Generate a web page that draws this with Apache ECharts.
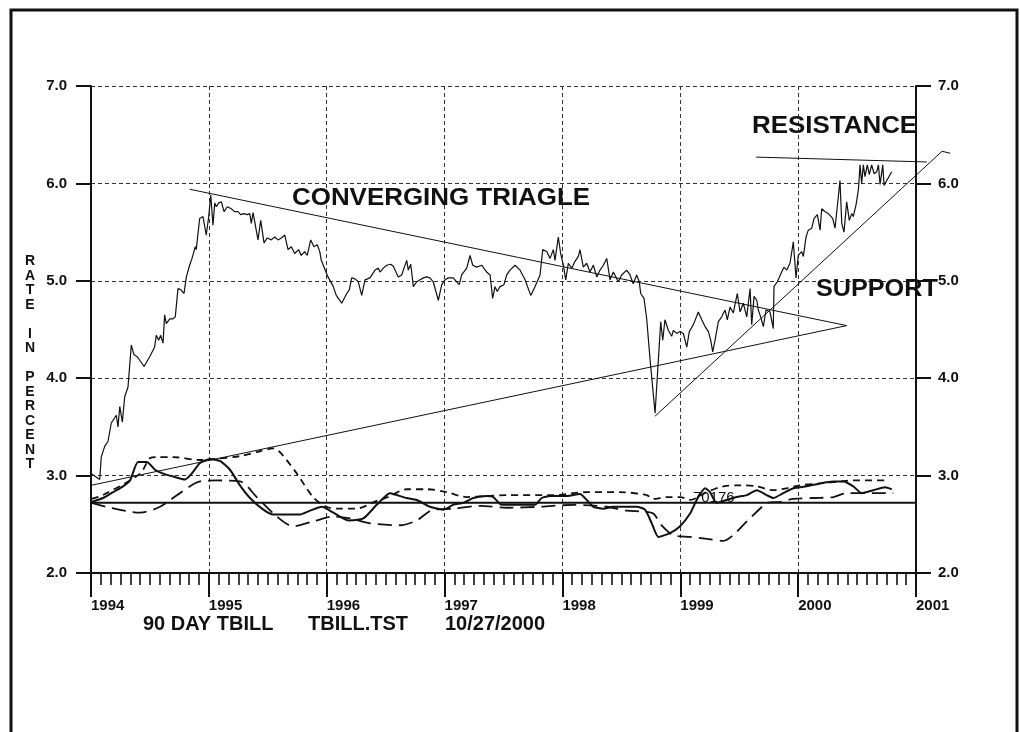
<!DOCTYPE html>
<html>
<head>
<meta charset="utf-8">
<title>90 DAY TBILL</title>
<script src="https://cdn.jsdelivr.net/npm/echarts@6/dist/echarts.min.js"></script>
<style>
  html, body { margin: 0; padding: 0; background: #fff; }
  #chart { width: 1020px; height: 732px; }
</style>
</head>
<body>
<div id="chart"></div>
<script>
// weekly 90 day t-bill rate (decimal years)
const rateYears = [
  1994.003, 1994.074, 1994.087, 1994.116, 1994.144, 1994.172, 1994.215, 1994.229, 1994.244, 1994.266,
  1994.286, 1994.314, 1994.342, 1994.365, 1994.393, 1994.450, 1994.498, 1994.540, 1994.554, 1994.574,
  1994.591, 1994.611, 1994.625, 1994.639, 1994.668, 1994.696, 1994.715, 1994.738, 1994.761, 1994.789,
  1994.809, 1994.837, 1994.857, 1994.885, 1994.893, 1994.922, 1994.950, 1994.978, 1994.999, 1995.016,
  1995.035, 1995.050, 1995.063, 1995.084, 1995.106, 1995.129, 1995.157, 1995.190, 1995.219, 1995.247,
  1995.270, 1995.298, 1995.326, 1995.347, 1995.360, 1995.375, 1995.389, 1995.417, 1995.440, 1995.468,
  1995.496, 1995.530, 1995.559, 1995.587, 1995.615, 1995.644, 1995.672, 1995.700, 1995.728, 1995.762,
  1995.784, 1995.813, 1995.835, 1995.864, 1995.892, 1995.920, 1995.941, 1995.954, 1995.971, 1996.011,
  1996.056, 1996.081, 1996.127, 1996.170, 1996.192, 1996.212, 1996.240, 1996.268, 1996.297, 1996.325,
  1996.367, 1996.410, 1996.438, 1996.452, 1996.480, 1996.509, 1996.543, 1996.565, 1996.607, 1996.636,
  1996.656, 1996.679, 1996.692, 1996.713, 1996.735, 1996.764, 1996.792, 1996.820, 1996.848, 1996.876,
  1996.904, 1996.947, 1996.976, 1997.004, 1997.032, 1997.074, 1997.103, 1997.125, 1997.145, 1997.188,
  1997.216, 1997.239, 1997.273, 1997.315, 1997.357, 1997.386, 1997.408, 1997.428, 1997.447, 1997.470,
  1997.504, 1997.527, 1997.555, 1997.598, 1997.640, 1997.683, 1997.731, 1997.767, 1997.810, 1997.833,
  1997.867, 1997.895, 1997.923, 1997.937, 1997.965, 1997.985, 1998.008, 1998.028, 1998.050, 1998.079,
  1998.107, 1998.135, 1998.149, 1998.177, 1998.206, 1998.234, 1998.262, 1998.291, 1998.319, 1998.347,
  1998.376, 1998.404, 1998.432, 1998.474, 1998.503, 1998.545, 1998.573, 1998.601, 1998.630, 1998.652,
  1998.664, 1998.692, 1998.715, 1998.743, 1998.786, 1998.814, 1998.834, 1998.851, 1998.870, 1998.899,
  1998.927, 1998.941, 1998.970, 1998.998, 1999.026, 1999.055, 1999.077, 1999.111, 1999.153, 1999.182,
  1999.210, 1999.238, 1999.258, 1999.275, 1999.295, 1999.323, 1999.351, 1999.380, 1999.399, 1999.422,
  1999.450, 1999.484, 1999.507, 1999.535, 1999.564, 1999.592, 1999.606, 1999.626, 1999.649, 1999.662,
  1999.682, 1999.705, 1999.727, 1999.761, 1999.789, 1999.795, 1999.823, 1999.860, 1999.880, 1999.903,
  1999.931, 1999.959, 1999.982, 2000.001, 2000.030, 2000.044, 2000.067, 2000.086, 2000.115, 2000.135,
  2000.163, 2000.186, 2000.200, 2000.228, 2000.256, 2000.293, 2000.313, 2000.332, 2000.355, 2000.370,
  2000.389, 2000.412, 2000.434, 2000.455, 2000.468, 2000.491, 2000.511, 2000.525, 2000.539, 2000.553,
  2000.567, 2000.587, 2000.604, 2000.624, 2000.644, 2000.667, 2000.681, 2000.695, 2000.718, 2000.729,
  2000.752, 2000.794
];
const rateValues = [
  3.02, 2.96, 3.19, 3.30, 3.35, 3.54, 3.62, 3.50, 3.71, 3.55,
  3.81, 3.91, 4.34, 4.24, 4.22, 4.12, 4.22, 4.32, 4.44, 4.39,
  4.44, 4.36, 4.65, 4.56, 4.61, 4.61, 4.63, 4.92, 4.91, 4.87,
  5.04, 5.16, 5.23, 5.35, 5.32, 5.64, 5.66, 5.47, 5.66, 5.88,
  5.57, 5.80, 5.76, 5.80, 5.81, 5.71, 5.76, 5.74, 5.71, 5.71,
  5.68, 5.69, 5.68, 5.69, 5.59, 5.70, 5.68, 5.42, 5.62, 5.39,
  5.44, 5.42, 5.45, 5.42, 5.44, 5.47, 5.32, 5.35, 5.28, 5.32,
  5.26, 5.30, 5.26, 5.42, 5.35, 5.37, 5.30, 5.21, 5.16, 5.04,
  4.94, 4.85, 4.77, 4.87, 4.91, 5.03, 5.02, 4.99, 4.85, 5.01,
  5.03, 5.11, 5.13, 5.09, 5.13, 5.16, 5.17, 5.15, 5.04, 5.06,
  5.13, 5.21, 5.11, 5.17, 4.94, 4.99, 5.01, 5.03, 5.04, 5.03,
  4.99, 4.80, 4.96, 5.01, 5.03, 5.03, 4.99, 4.96, 5.06, 5.13,
  5.26, 5.16, 5.14, 5.16, 5.09, 5.06, 4.82, 4.94, 4.89, 4.94,
  4.96, 5.06, 5.11, 5.16, 5.11, 5.01, 4.85, 4.94, 5.06, 5.32,
  5.30, 5.23, 5.32, 5.21, 5.45, 5.28, 5.16, 5.01, 5.18, 5.13,
  5.20, 5.25, 5.32, 5.14, 5.18, 5.09, 5.16, 5.04, 5.11, 5.16,
  5.23, 5.01, 5.09, 4.99, 5.06, 5.11, 5.06, 4.97, 5.06, 4.99,
  4.87, 4.82, 4.61, 4.20, 3.64, 4.19, 4.58, 4.39, 4.60, 4.49,
  4.43, 4.49, 4.46, 4.48, 4.46, 4.32, 4.48, 4.55, 4.68, 4.60,
  4.53, 4.48, 4.39, 4.27, 4.39, 4.58, 4.63, 4.70, 4.60, 4.73,
  4.67, 4.87, 4.68, 4.77, 4.63, 4.92, 4.55, 4.84, 4.80, 4.70,
  4.63, 4.53, 4.70, 4.68, 4.51, 4.94, 4.99, 5.09, 5.14, 5.11,
  5.18, 5.40, 5.03, 5.26, 5.30, 5.25, 5.45, 5.52, 5.54, 5.64,
  5.68, 5.52, 5.74, 5.71, 5.69, 5.64, 5.54, 5.76, 6.03, 5.59,
  5.50, 5.81, 5.62, 5.69, 5.66, 5.78, 5.93, 6.19, 6.00, 6.19,
  6.07, 6.19, 6.09, 6.19, 6.10, 6.12, 6.19, 5.99, 6.19, 5.98,
  6.03, 6.12
];

// oscillator lines in the lower band
const oscSolidYears = [
  1994.006, 1994.102, 1994.187, 1994.272, 1994.331, 1994.399, 1994.473, 1994.543, 1994.613, 1994.698,
  1994.798, 1994.854, 1994.925, 1995.010, 1995.095, 1995.179, 1995.264, 1995.349, 1995.462, 1995.547,
  1995.661, 1995.773, 1995.858, 1995.958, 1996.056, 1996.183, 1996.310, 1996.424, 1996.537, 1996.594,
  1996.679, 1996.764, 1996.876, 1996.989, 1997.074, 1997.159, 1997.244, 1997.357, 1997.414, 1997.485,
  1997.640, 1997.767, 1997.824, 1997.895, 1998.036, 1998.149, 1998.206, 1998.262, 1998.347, 1998.432,
  1998.630, 1998.701, 1998.758, 1998.814, 1998.913, 1998.998, 1999.083, 1999.139, 1999.210, 1999.252,
  1999.309, 1999.394, 1999.479, 1999.564, 1999.649, 1999.733, 1999.789, 1999.874, 1999.959, 2000.073,
  2000.186, 2000.299, 2000.384, 2000.468, 2000.539, 2000.638, 2000.737, 2000.794
];
const oscSolidValues = [
  2.73, 2.77, 2.83, 2.89, 2.95, 3.14, 3.14, 3.06, 3.02, 2.99,
  2.96, 3.02, 3.13, 3.17, 3.15, 3.06, 2.90, 2.77, 2.65, 2.60,
  2.60, 2.60, 2.64, 2.68, 2.62, 2.54, 2.56, 2.70, 2.82, 2.80,
  2.77, 2.75, 2.68, 2.65, 2.70, 2.72, 2.77, 2.79, 2.78, 2.70,
  2.70, 2.70, 2.77, 2.79, 2.79, 2.81, 2.75, 2.68, 2.66, 2.68,
  2.68, 2.65, 2.51, 2.37, 2.41, 2.48, 2.61, 2.75, 2.87, 2.83,
  2.72, 2.75, 2.78, 2.80, 2.85, 2.80, 2.77, 2.82, 2.87, 2.89,
  2.92, 2.94, 2.94, 2.89, 2.82, 2.85, 2.88, 2.86
];
const oscFastYears = [
  1994.006, 1994.102, 1994.416, 1994.501, 1994.557, 1994.698, 1994.925, 1995.038, 1995.264, 1995.433,
  1995.547, 1995.611, 1995.747, 1995.884, 1995.997, 1996.113, 1996.247, 1996.424, 1996.520, 1996.679,
  1996.848, 1997.018, 1997.188, 1997.357, 1997.527, 1997.923, 1998.206, 1998.489, 1998.715, 1998.769,
  1998.885, 1998.998, 1999.083, 1999.225, 1999.366, 1999.507, 1999.649, 1999.789, 1999.903, 2000.016,
  2000.186, 2000.355, 2000.468, 2000.752
];
const oscFastValues = [
  2.76, 2.80, 3.02, 3.18, 3.19, 3.19, 3.16, 3.17, 3.20, 3.25,
  3.28, 3.23, 3.02, 2.78, 2.68, 2.66, 2.66, 2.74, 2.78, 2.86,
  2.86, 2.83, 2.78, 2.79, 2.80, 2.80, 2.83, 2.83, 2.80, 2.76,
  2.78, 2.78, 2.75, 2.83, 2.89, 2.90, 2.89, 2.85, 2.87, 2.90,
  2.92, 2.94, 2.95, 2.95
];
const oscSlowYears = [
  1994.006, 1994.161, 1994.416, 1994.585, 1994.755, 1994.925, 1995.067, 1995.264, 1995.406, 1995.576,
  1995.717, 1995.886, 1996.056, 1996.198, 1996.367, 1996.622, 1996.764, 1996.904, 1997.074, 1997.300,
  1997.527, 1997.810, 1998.092, 1998.376, 1998.545, 1998.686, 1998.771, 1998.842, 1998.941, 1999.083,
  1999.225, 1999.366, 1999.450, 1999.564, 1999.676, 1999.733, 1999.846, 1999.959, 2000.129, 2000.299,
  2000.412, 2000.638, 2000.808
];
const oscSlowValues = [
  2.72, 2.67, 2.62, 2.68, 2.82, 2.94, 2.95, 2.94, 2.78, 2.58,
  2.48, 2.53, 2.58, 2.56, 2.51, 2.49, 2.54, 2.65, 2.66, 2.69,
  2.67, 2.68, 2.70, 2.68, 2.64, 2.63, 2.61, 2.49, 2.39, 2.37,
  2.35, 2.33, 2.39, 2.53, 2.66, 2.72, 2.73, 2.76, 2.77, 2.78,
  2.82, 2.82, 2.82
];
const oscBaseLevel = 2.72;

// hand drawn trend lines
const upperTrendYears = [1994.837, 2000.412];
const upperTrendValues = [5.94, 4.54];
const lowerTrendYears = [1994.0, 2000.412];
const lowerTrendValues = [2.90, 4.54];
const supportYears = [1998.786, 2001.221, 2001.289];
const supportValues = [3.61, 6.33, 6.31];
const resistanceYears = [1999.643, 2001.091];
const resistanceValues = [6.27, 6.22];

const yearTicks = [1994, 1995, 1996, 1997, 1998, 1999, 2000, 2001];
const rateTicks = [2.0, 3.0, 4.0, 5.0, 6.0, 7.0];

const INK = '#111';
const FONT = '"Liberation Sans", Arial, Helvetica, sans-serif';

const pairs = (xs, ys) => xs.map((x, i) => [x, ys[i]]);

const lineSeries = (name, xs, ys, style, extra) => Object.assign({
  name: name,
  type: 'line',
  data: pairs(xs, ys),
  showSymbol: false,
  symbol: 'none',
  silent: true,
  animation: false,
  lineStyle: Object.assign({ color: INK, width: 1 }, style)
}, extra || {});

const textEl = (id, text, x, y, font, scaleX) => ({
  id: id,
  type: 'text',
  silent: true,
  x: x,
  y: y,
  scaleX: scaleX || 1,
  style: {
    text: text, font: font, fill: INK,
    align: 'left', textAlign: 'left', verticalAlign: 'middle', textVerticalAlign: 'middle'
  }
});

const chart = echarts.init(document.getElementById('chart'), null, { renderer: 'canvas' });

const yAxisBase = {
  type: 'value',
  min: rateTicks[0],
  max: rateTicks[rateTicks.length - 1],
  interval: 1,
  axisLine: { show: true, lineStyle: { color: INK, width: 2 } },
  axisTick: { show: true, length: 15, lineStyle: { color: INK, width: 2 } },
  axisLabel: {
    color: INK,
    fontFamily: FONT,
    fontWeight: 'bold',
    fontSize: 15,
    formatter: (v) => v.toFixed(1)
  }
};

chart.setOption({
  animation: false,
  backgroundColor: '#fff',
  grid: { left: 91, right: 104, top: 86, bottom: 159, containLabel: false },
  xAxis: {
    type: 'value',
    min: yearTicks[0],
    max: yearTicks[yearTicks.length - 1],
    interval: 1,
    axisLine: { show: true, onZero: false, lineStyle: { color: INK, width: 2 } },
    axisTick: { show: true, length: 24, lineStyle: { color: INK, width: 2 } },
    minorTick: { show: true, splitNumber: 12, length: 12, lineStyle: { color: INK, width: 1.6 } },
    axisLabel: {
      color: INK,
      fontFamily: FONT,
      fontWeight: 'bold',
      fontSize: 15,
      align: 'left',
      margin: 25,
      showMinLabel: true,
      showMaxLabel: true,
      formatter: (v) => String(Math.round(v))
    },
    splitLine: { show: true, lineStyle: { color: '#333', width: 1, type: [4, 3] } }
  },
  yAxis: [
    Object.assign({}, yAxisBase, {
      position: 'left',
      axisLabel: Object.assign({}, yAxisBase.axisLabel, { margin: 24 }),
      splitLine: { show: true, lineStyle: { color: '#333', width: 1, type: [4, 3] } }
    }),
    Object.assign({}, yAxisBase, {
      position: 'right',
      axisLabel: Object.assign({}, yAxisBase.axisLabel, { margin: 22 }),
      splitLine: { show: false }
    })
  ],
  series: [
    lineSeries('TBILL', rateYears, rateValues, { width: 1.2 }),
    lineSeries('upper trend', upperTrendYears, upperTrendValues, { width: 1 }),
    lineSeries('lower trend', lowerTrendYears, lowerTrendValues, { width: 1 }),
    lineSeries('osc slow', oscSlowYears, oscSlowValues, { width: 1.8, type: [14, 7] }, { smooth: 0.3 }),
    lineSeries('osc fast', oscFastYears, oscFastValues, { width: 1.8, type: [7, 5] }, { smooth: 0.3 }),
    lineSeries('osc', oscSolidYears, oscSolidValues, { width: 2 }, { smooth: 0.2 }),
    lineSeries('base', [yearTicks[0], yearTicks[yearTicks.length - 1]], [oscBaseLevel, oscBaseLevel], { width: 2 })
  ]
});

// support / resistance run past the right axis, so they are drawn unclipped
// as polylines placed through the chart's own scales
const toPixels = (xs, ys) => xs.map((x, i) => chart.convertToPixel({ gridIndex: 0 }, [x, ys[i]]));

chart.setOption({
  graphic: [
    {
      id: 'frame',
      type: 'rect',
      silent: true,
      shape: { x: 11, y: 10, width: 1006, height: 760 },
      style: { fill: 'none', stroke: INK, lineWidth: 3 }
    },
    {
      id: 'support',
      type: 'polyline', silent: true, z: 10,
      shape: { points: toPixels(supportYears, supportValues) },
      style: { fill: 'none', stroke: INK, lineWidth: 1 }
    },
    {
      id: 'resistance',
      type: 'polyline', silent: true, z: 10,
      shape: { points: toPixels(resistanceYears, resistanceValues) },
      style: { fill: 'none', stroke: INK, lineWidth: 1 }
    },
    // vertical axis name, one letter per line
    {
      id: 'yname',
      type: 'text',
      silent: true,
      x: 30,
      y: 254,
      style: {
        text: 'R\nA\nT\nE\n \nI\nN\n \nP\nE\nR\nC\nE\nN\nT',
        font: 'bold 14px ' + FONT,
        fill: INK,
        align: 'center',
        textAlign: 'center',
        verticalAlign: 'top',
        textVerticalAlign: 'top',
        lineHeight: 14.5
      }
    },
    textEl('t1', 'CONVERGING TRIAGLE', 292, 198, 'bold 24px ' + FONT, 1.08),
    textEl('t2', 'RESISTANCE', 752, 126, 'bold 24px ' + FONT, 1.08),
    textEl('t3', 'SUPPORT', 816, 289, 'bold 24px ' + FONT, 1.05),
    textEl('t4', '70176', 693, 498, '15px ' + FONT),
    // footer line
    textEl('f1', '90 DAY TBILL', 143, 624, 'bold 20px ' + FONT),
    textEl('f2', 'TBILL.TST', 308, 624, 'bold 20px ' + FONT),
    textEl('f3', '10/27/2000', 445, 624, 'bold 20px ' + FONT)
  ]
});
</script>
</body>
</html>
